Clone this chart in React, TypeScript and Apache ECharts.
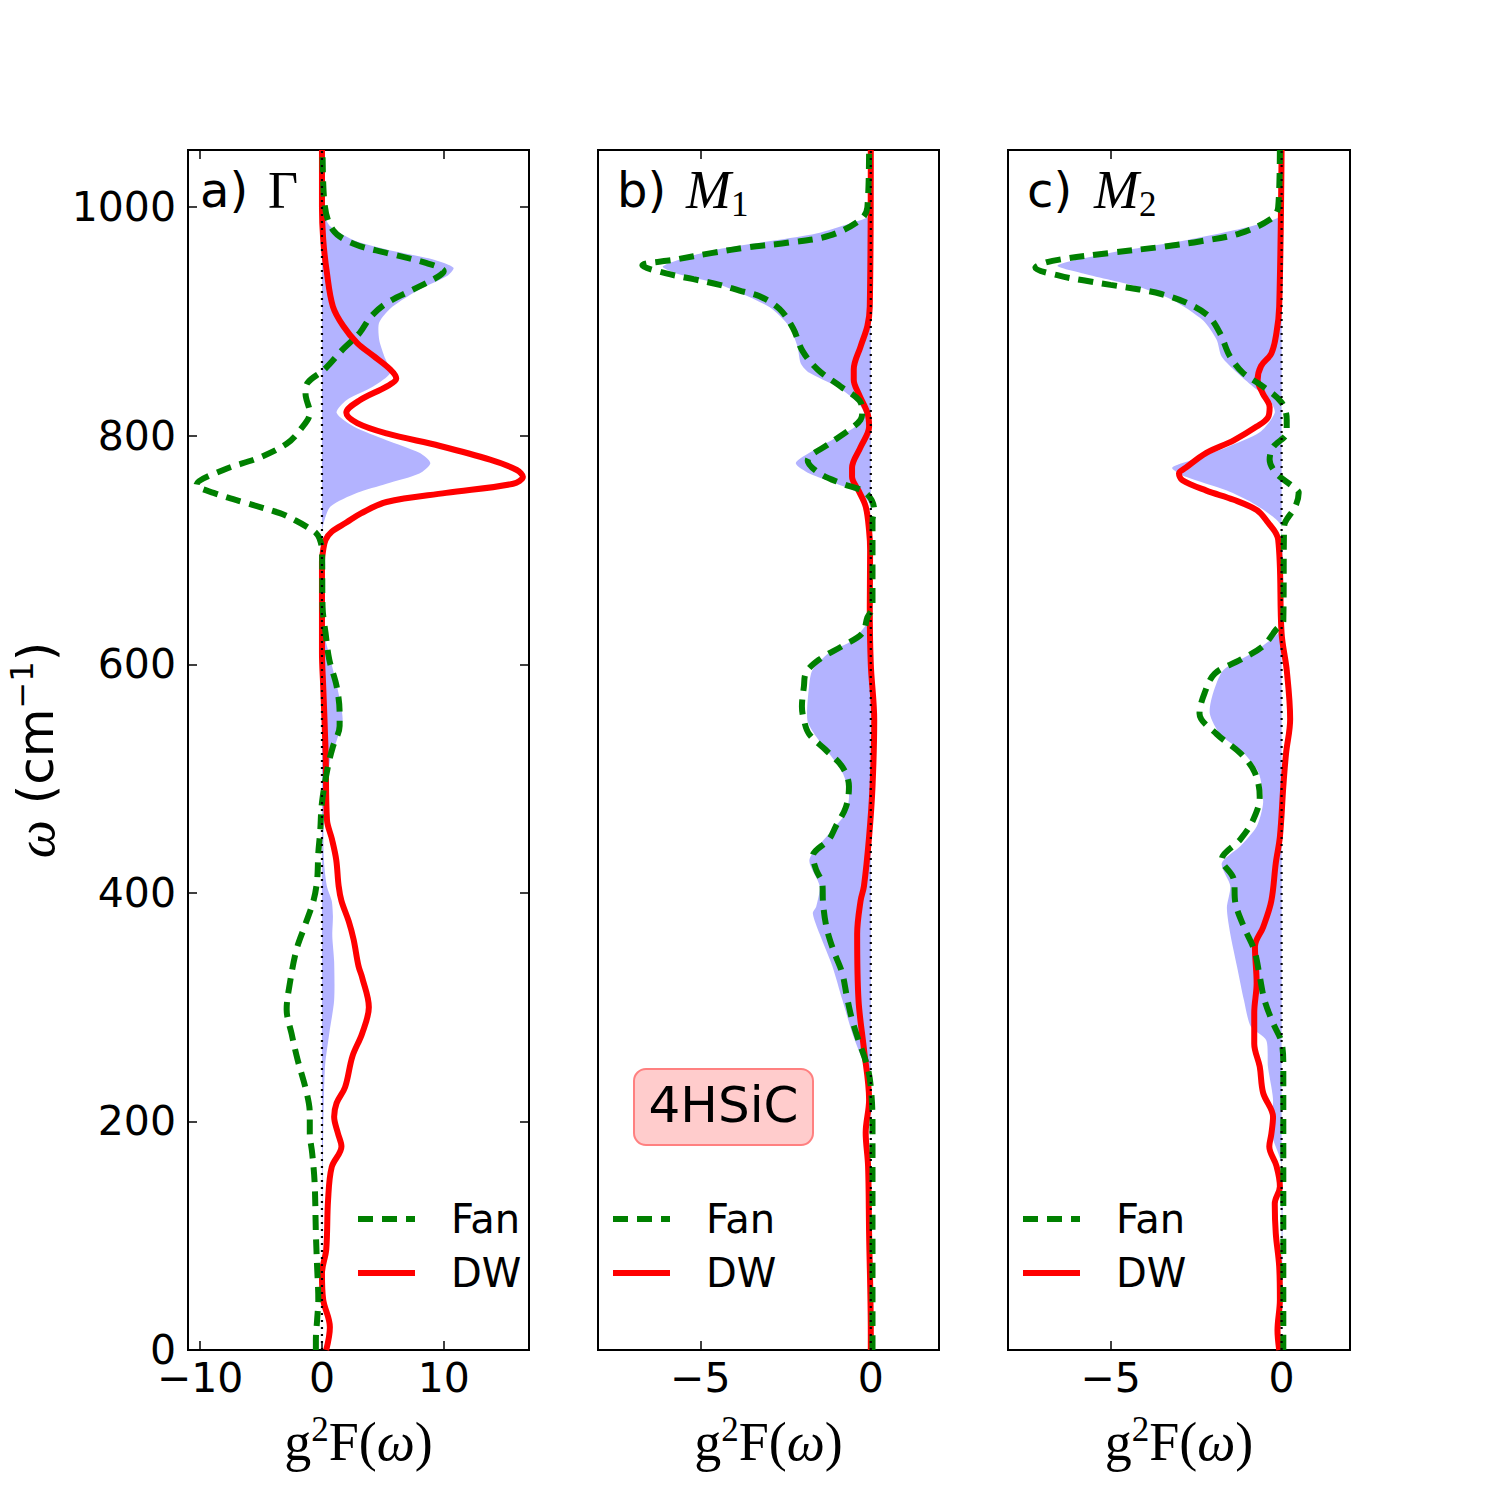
import { useEffect, useRef } from 'react';
import * as echarts from 'echarts';

// Each point is [ω (cm⁻¹), g²F(ω)]
type Pt = [number, number];

// ---- a) Γ ----
const fanGamma: Pt[] = [
  [0, -0.5], [9, -0.5], [26, -0.4], [44, -0.3], [73, -0.4], [102, -0.5], [146, -0.6], [172, -0.8],
  [190, -1.0], [207, -1.0], [227, -1.3], [254, -2.0], [277, -2.5], [298, -2.9], [320, -2.65], [350, -2.1],
  [370, -1.45], [393, -0.7], [411, -0.4], [435, -0.3], [453, -0.15], [479, 0], [511, 0.5], [528, 0.9],
  [546, 1.45], [557, 1.45], [581, 1.2], [604, 0.6], [627, 0.3], [650, 0.05], [700, 0], [710, -0.2],
  [715, -0.5], [720, -1.2], [726, -2.2], [732, -3.4], [741, -6.2], [750, -8.9], [757, -10.3], [770, -8.1],
  [781, -5.1], [793, -2.9], [805, -1.8], [820, -1.0], [837, -1.35], [846, -1.2], [858, 0.2], [876, 1.75],
  [890, 3.1], [904, 4.0], [916, 5.3], [928, 7.5], [939, 9.5], [944, 10.0], [951, 8.6], [960, 5.3],
  [968, 2.6], [980, 0.9], [1004, 0.2], [1050, 0.05],
];
const dwGamma: Pt[] = [
  [0, 0.35], [20, 0.65], [44, 0.1], [67, 0], [88, 0.35], [131, 0.5], [160, 0.8], [178, 1.6],
  [190, 1.3], [204, 1.0], [216, 1.2], [230, 1.9], [257, 2.5], [277, 3.3], [300, 3.85], [326, 3.3],
  [336, 3.0], [359, 2.6], [375, 2.2], [393, 1.6], [406, 1.37], [429, 1.17], [447, 0.82], [464, 0.41],
  [523, 0.3], [581, 0.1], [610, 0], [690, 0], [700, 0.1], [709, 0.3], [716, 0.8], [724, 2.0],
  [732, 3.2], [742, 5.3], [750, 10.2], [758, 15.7], [764, 16.5], [770, 16.0], [779, 13.8], [791, 9.7],
  [802, 5.3], [811, 2.9], [820, 2.0], [831, 3.1], [843, 5.3], [850, 6.1], [858, 5.6], [870, 4.2],
  [881, 2.9], [896, 1.75], [913, 0.9], [943, 0.4], [972, 0.1], [1000, 0], [1050, 0],
];
const totalGamma: Pt[] = [
  [0, 0], [150, 0.05], [190, 0.1], [248, 0.25], [277, 0.6], [306, 1.0], [340, 1.0], [362, 0.85],
  [380, 0.9], [393, 0.8], [406, 0.4], [430, 0.15], [464, 0.15], [493, 0.41], [517, 0.68], [534, 1.23],
  [552, 1.7], [581, 1.23], [616, 0.41], [630, 0.1], [650, 0], [715, 0], [724, 0.15], [738, 0.7],
  [750, 2.9], [758, 5.3], [767, 8.0], [776, 8.9], [785, 8.0], [796, 5.3], [808, 2.6], [820, 1.2],
  [831, 2.0], [843, 4.2], [855, 5.6], [870, 5.1], [884, 4.7], [899, 4.7], [913, 5.8], [928, 8.0],
  [940, 10.3], [947, 10.8], [954, 9.2], [963, 5.3], [971, 2.6], [983, 0.7], [992, 0.2], [1000, 0],
  [1050, 0],
];

// ---- b) M1 ----
const fanM1: Pt[] = [
  [0, 0.05], [100, 0.05], [200, 0.05], [230, 0], [248, -0.1], [271, -0.36], [289, -0.55], [309, -0.7],
  [330, -0.84], [350, -1.1], [370, -1.3], [391, -1.4], [408, -1.42], [420, -1.6], [432, -1.7], [447, -1.22],
  [458, -1.03], [475, -0.73], [493, -0.64], [510, -0.83], [525, -1.32], [539, -1.81], [551, -1.96], [563, -2.02],
  [581, -1.96], [592, -1.91], [604, -1.52], [616, -0.83], [627, -0.25], [641, -0.1], [650, 0.05], [700, 0.05],
  [726, 0.05], [735, 0.1], [750, -0.15], [758, -0.84], [767, -1.5], [778, -1.85], [793, -1.22], [805, -0.64],
  [814, -0.3], [822, -0.25], [831, -0.34], [843, -0.88], [858, -1.56], [874, -2.0], [894, -2.28], [911, -2.68],
  [922, -3.26], [927, -3.85], [932, -4.43], [937, -5.2], [942, -6.0], [949, -6.7], [954, -5.76], [960, -4.64],
  [965, -3.57], [969, -2.4], [975, -1.22], [989, -0.3], [1000, -0.1], [1050, -0.05],
];
const dwM1: Pt[] = [
  [0, 0], [15, 0], [102, -0.05], [161, -0.08], [190, -0.15], [219, -0.05], [263, -0.2], [306, -0.36],
  [364, -0.4], [393, -0.3], [406, -0.2], [449, -0.05], [493, 0.05], [551, 0.1], [600, 0], [650, -0.03],
  [700, -0.02], [717, -0.05], [738, -0.15], [752, -0.36], [764, -0.55], [772, -0.55], [790, -0.3], [808, -0.05],
  [820, -0.1], [837, -0.36], [849, -0.5], [858, -0.5], [878, -0.3], [896, -0.1], [913, -0.03], [1050, 0],
];
const totalM1: Pt[] = [
  [0, 0], [150, -0.02], [231, 0], [254, -0.25], [277, -0.54], [306, -0.83], [336, -1.13], [364, -1.5],
  [382, -1.7], [388, -1.6], [406, -1.5], [429, -1.8], [452, -1.22], [470, -0.73], [487, -0.64], [505, -0.83],
  [522, -1.22], [537, -1.61], [551, -1.86], [581, -1.81], [595, -1.71], [610, -1.22], [621, -0.54], [638, -0.05],
  [645, 0], [725, 0], [741, -0.05], [750, -0.36], [758, -1.0], [767, -1.8], [776, -2.2], [785, -1.8],
  [796, -1.15], [808, -0.45], [820, -0.2], [831, -0.45], [843, -1.0], [855, -1.8], [863, -2.05], [878, -2.15],
  [896, -2.4], [913, -3.0], [933, -4.5], [942, -5.7], [948, -6.1], [957, -5.3], [963, -4.5], [971, -2.8],
  [977, -1.6], [986, -0.6], [994, 0], [1050, 0],
];

// ---- c) M2 ----
const fanM2: Pt[] = [
  [0, 0.05], [15, 0.05], [248, 0.05], [269, 0], [286, -0.25], [306, -0.5], [327, -0.64], [350, -0.8],
  [370, -1.1], [391, -1.35], [412, -1.4], [429, -1.75], [447, -1.2], [464, -0.83], [484, -0.64], [505, -0.78],
  [522, -1.2], [539, -1.9], [557, -2.4], [575, -2.25], [592, -1.95], [604, -1.2], [616, -0.54], [630, -0.17],
  [638, 0.05], [717, 0.07], [724, 0.1], [738, 0.4], [750, 0.5], [755, 0.35], [767, -0.15], [779, -0.35],
  [790, -0.25], [803, 0.15], [814, 0.15], [829, 0], [843, -0.54], [855, -1.13], [870, -1.52], [889, -1.79],
  [905, -2.15], [917, -2.83], [924, -3.52], [928, -4.16], [932, -5.0], [936, -5.8], [940, -6.5], [947, -7.2],
  [953, -6.7], [960, -5.0], [965, -3.57], [970, -2.4], [977, -1.22], [990, -0.3], [1000, -0.1], [1050, -0.05],
];
const dwM2: Pt[] = [
  [0, -0.07], [17, -0.12], [44, -0.05], [73, -0.07], [102, -0.17], [128, -0.2], [143, -0.05], [161, -0.15],
  [178, -0.36], [189, -0.3], [204, -0.25], [225, -0.54], [248, -0.64], [268, -0.8], [295, -0.8], [321, -0.73],
  [353, -0.78], [370, -0.54], [393, -0.3], [426, -0.17], [449, -0.05], [493, 0.05], [522, 0.13], [552, 0.25],
  [595, 0.15], [627, 0], [709, -0.1], [726, -0.45], [735, -0.73], [744, -1.4], [752, -2.2], [761, -2.9],
  [767, -3.0], [772, -2.8], [785, -2.2], [796, -1.4], [808, -0.73], [816, -0.4], [825, -0.35], [837, -0.55],
  [849, -0.7], [861, -0.6], [872, -0.3], [890, -0.15], [913, -0.07], [1050, 0],
];
const totalM2: Pt[] = [
  [0, 0], [161, 0], [190, -0.3], [219, -0.25], [248, -0.4], [271, -0.45], [283, -0.9], [306, -1.1],
  [335, -1.3], [364, -1.5], [387, -1.6], [406, -1.5], [426, -1.75], [441, -1.2], [458, -0.73], [479, -0.54],
  [505, -0.67], [522, -1.1], [539, -1.8], [557, -2.1], [575, -2.0], [595, -1.7], [610, -0.84], [627, -0.1],
  [635, 0], [720, 0], [729, -0.25], [741, -0.84], [752, -1.6], [764, -2.8], [772, -3.2], [779, -2.6],
  [790, -1.6], [803, -0.64], [820, -0.2], [831, -0.35], [843, -0.84], [855, -1.3], [869, -1.75], [884, -1.9],
  [901, -2.3], [919, -3.2], [930, -4.15], [942, -5.8], [949, -6.55], [960, -5.0], [971, -2.8], [981, -1.2],
  [990, -0.15], [996, 0], [1050, 0],
];

// ---- axes ----
const yTicks = [0, 200, 400, 600, 800, 1000];
const xTicksGamma = [-10, 0, 10];
const xTicksM = [-5, 0];
const seriesNames = ['Fan', 'DW'];

const SANS = 'DejaVu Sans';
const SERIF = 'Liberation Serif';
const GREEN = '#008000';
const RED = '#ff0000';
const FILL = '#b3b3ff';

const TOP = 150;
const HEIGHT = 1200;
const W_MAX = 1050;

interface Panel {
  left: number;
  width: number;
  min: number;
  max: number;
  ticks: number[];
  fan: Pt[];
  dw: Pt[];
  total: Pt[];
  legendLeft: number;
}

const panels: Panel[] = [
  { left: 188, width: 341, min: -11, max: 17, ticks: xTicksGamma, fan: fanGamma, dw: dwGamma, total: totalGamma, legendLeft: 355 },
  { left: 598, width: 341, min: -8, max: 2, ticks: xTicksM, fan: fanM1, dw: dwM1, total: totalM1, legendLeft: 610 },
  { left: 1008, width: 342, min: -8, max: 2, ticks: xTicksM, fan: fanM2, dw: dwM2, total: totalM2, legendLeft: 1020 },
];

const withMinus = (v: number) => String(v).replace('-', '\u2212');
const plain = (v: number) => String(v);
const toXY = (pts: Pt[]) => pts.map(([w, v]) => [v, w]);
const hiddenLine = { show: false, onZero: false };

function buildOption() {
  const grid: any[] = [];
  const xAxis: any[] = [];
  const yAxis: any[] = [];
  const series: any[] = [];

  panels.forEach((p, i) => {
    grid.push({
      left: p.left, top: TOP, width: p.width, height: HEIGHT,
      show: true, borderColor: '#000', borderWidth: 2, backgroundColor: 'transparent',
    });

    const xTick = { show: true, inside: true, length: 9, lineStyle: { color: '#000', width: 1.5 }, customValues: p.ticks };
    xAxis.push({
      gridIndex: i, type: 'value', position: 'bottom', min: p.min, max: p.max,
      axisLine: hiddenLine, splitLine: { show: false }, axisTick: xTick,
      axisLabel: { customValues: p.ticks, formatter: withMinus, fontFamily: SANS, fontSize: 41, color: '#000', margin: 7 },
      name: '{r|g}{s|2}{r|F(}{i|ω}{r|)}',
      nameLocation: 'middle', nameGap: 62,
      nameTextStyle: {
        rich: {
          r: { fontFamily: SERIF, fontSize: 54, lineHeight: 60, color: '#000' },
          i: { fontFamily: SERIF, fontSize: 54, fontStyle: 'italic', lineHeight: 60, color: '#000' },
          s: { fontFamily: SERIF, fontSize: 35, lineHeight: 34, verticalAlign: 'top', color: '#000' },
        },
      },
    });
    xAxis.push({
      gridIndex: i, type: 'value', position: 'top', min: p.min, max: p.max,
      axisLine: hiddenLine, splitLine: { show: false }, axisTick: xTick, axisLabel: { show: false },
    });

    const showY = i === 0;
    const yTick = showY
      ? { show: true, inside: true, length: 9, lineStyle: { color: '#000', width: 1.5 }, customValues: yTicks }
      : { show: false };
    yAxis.push({
      gridIndex: i, type: 'value', position: 'left', min: 0, max: W_MAX,
      axisLine: hiddenLine, splitLine: { show: false }, axisTick: yTick,
      axisLabel: showY
        ? { customValues: yTicks, formatter: plain, fontFamily: SANS, fontSize: 41, color: '#000', margin: 12 }
        : { show: false },
      name: showY ? '{i|ω}{t| (cm}{s|−1}{t|)}' : '',
      nameLocation: 'middle', nameRotate: 90, nameGap: 122,
      nameTextStyle: {
        rich: {
          i: { fontFamily: SERIF, fontSize: 54, fontStyle: 'italic', lineHeight: 60, color: '#000' },
          t: { fontFamily: SANS, fontSize: 50, lineHeight: 60, color: '#000' },
          s: { fontFamily: SANS, fontSize: 32, lineHeight: 32, verticalAlign: 'top', color: '#000' },
        },
      },
    });
    yAxis.push({
      gridIndex: i, type: 'value', position: 'right', min: 0, max: W_MAX,
      axisLine: hiddenLine, splitLine: { show: false }, axisTick: yTick, axisLabel: { show: false },
    });

    const xi = 2 * i;
    const yi = 2 * i;
    const total = p.total;

    // shaded total, closed against the zero line
    series.push({
      type: 'custom', xAxisIndex: xi, yAxisIndex: yi, silent: true, z: 1,
      data: toXY(total), encode: { x: 0, y: 1 },
      renderItem: (params: any, api: any) => {
        if (params.dataIndex !== 0) return null;
        const first = total[0][0];
        const last = total[total.length - 1][0];
        const pts = [[0, first], ...toXY(total), [0, last]].map((q) => api.coord(q));
        return { type: 'polygon', shape: { points: pts, smooth: 0.25 }, style: { fill: FILL } };
      },
    });
    series.push({
      name: 'DW', type: 'line', xAxisIndex: xi, yAxisIndex: yi, z: 3,
      data: toXY(p.dw), symbol: 'none', smooth: 0.35, silent: true,
      lineStyle: { color: RED, width: 6 }, itemStyle: { color: RED },
    });
    series.push({
      name: 'Fan', type: 'line', xAxisIndex: xi, yAxisIndex: yi, z: 4,
      data: toXY(p.fan), symbol: 'none', smooth: 0.35, silent: true,
      lineStyle: { color: GREEN, width: 6, type: [15, 9] }, itemStyle: { color: GREEN },
    });
    series.push({
      type: 'line', xAxisIndex: xi, yAxisIndex: yi, z: 5,
      data: [[0, 0], [0, W_MAX]], symbol: 'none', silent: true,
      lineStyle: { color: '#000', width: 2.2, type: [2, 5] },
    });
  });

  const legend = panels.map((p) => ({
    data: seriesNames, orient: 'vertical', left: p.legendLeft, top: 1197, padding: 0,
    itemWidth: 57, itemHeight: 20, itemGap: 10, selectedMode: false,
    lineStyle: { width: 'inherit' },
    itemStyle: { opacity: 0 },
    textStyle: { fontFamily: SANS, fontSize: 40, color: '#000', lineHeight: 44, padding: [0, 0, 0, 31] },
  }));

  const titleY = 190;
  const subY = 204;
  const label = (x: number, y: number, text: string, family: string, size: number, italic = false) => ({
    type: 'text', x, y, silent: true,
    style: {
      text, fontFamily: family, fontSize: size, fontStyle: italic ? 'italic' : 'normal',
      fill: '#000', align: 'left', verticalAlign: 'middle',
    },
  });

  const graphic = [
    label(200, titleY, 'a)', SANS, 48),
    label(268, titleY, 'Γ', SERIF, 52),
    label(617, titleY, 'b)', SANS, 48),
    label(686, titleY, 'M', SERIF, 54, true),
    label(731, subY, '1', SERIF, 35),
    label(1027, titleY, 'c)', SANS, 48),
    label(1094, titleY, 'M', SERIF, 54, true),
    label(1139, subY, '2', SERIF, 35),
    {
      type: 'rect', silent: true,
      shape: { x: 634, y: 1069, width: 179, height: 76, r: 12 },
      style: { fill: '#ffcccc', stroke: '#ff8080', lineWidth: 2 },
    },
    {
      type: 'text', x: 723.5, y: 1105, silent: true,
      style: { text: '4HSiC', fontFamily: SANS, fontSize: 50, fill: '#000', align: 'center', verticalAlign: 'middle' },
    },
  ];

  return {
    animation: false,
    backgroundColor: '#ffffff',
    grid, xAxis, yAxis, series, legend, graphic,
  };
}

export default function App() {
  const ref = useRef<HTMLDivElement>(null);
  useEffect(() => {
    if (!ref.current) return;
    const chart = echarts.init(ref.current, undefined, { renderer: 'svg' });
    chart.setOption(buildOption() as any);
    return () => chart.dispose();
  }, []);
  return <div ref={ref} style={{ position: 'absolute', left: 0, top: 0, width: 1500, height: 1500 }} />;
}
